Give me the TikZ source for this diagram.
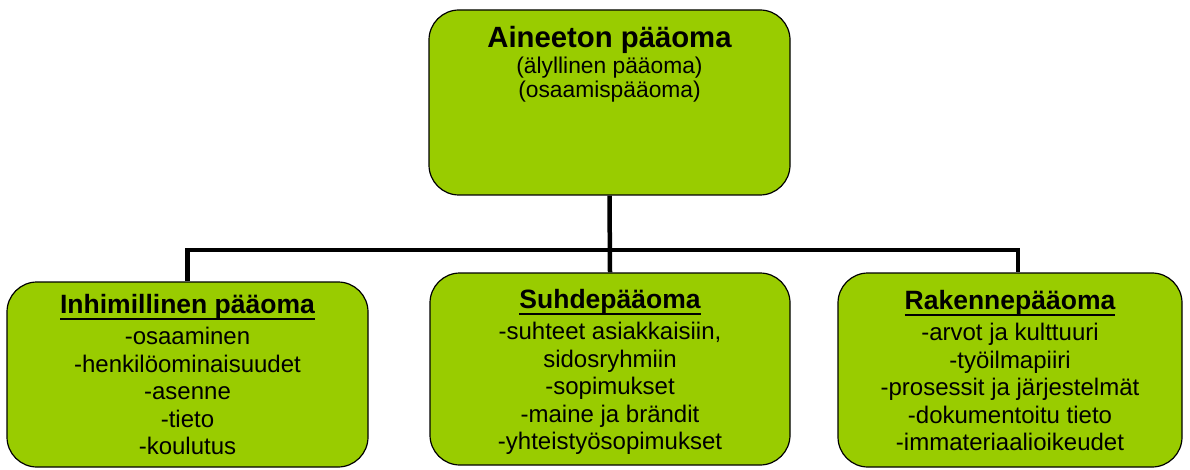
\documentclass[tikz,border=0pt]{standalone}
\usepackage{fontspec}
\setmainfont{Liberation Sans}
\definecolor{paagreen}{RGB}{153,204,0}
\newcommand\alleviiva[1]{\setbox0\hbox{#1}\rlap{\rule[-6pt]{\wd0}{2pt}}\box0}

\begin{document}
\begin{tikzpicture}[x=1pt, y=1pt,
    laatikko/.style={draw=black, line width=1.2pt, fill=paagreen, rounded corners=30pt, inner sep=0pt},
    teksti/.style={anchor=north, inner sep=0pt, align=center, font=\fontsize{24}{27.5}\selectfont},
    palkki/.style={black, line width=4.5pt}]
            \useasboundingbox (0,0) rectangle (1190,469);

            \node[laatikko, minimum width=361pt, minimum height=185pt] (paaoma) at (609.5,366.5) {};
            \node[laatikko, minimum width=361pt, minimum height=185pt] (inhim) at (187.5,94.5) {};
            \node[laatikko, minimum width=360pt, minimum height=192pt] (suhde) at (610,100) {};
            \node[laatikko, minimum width=344pt, minimum height=194pt] (rakenne) at (1010,99) {};

            \node[teksti, font=\fontsize{22.8}{24}\selectfont] (paaomateksti) at ([yshift=-17pt]paaoma.north)
                {{\bfseries\fontsize{29.3}{31}\selectfont Aineeton pääoma}\\[2pt]
                 (älyllinen pääoma)\\(osaamispääoma)};
            \node[teksti] (inhimteksti) at ([yshift=-13pt]inhim.north)
                {{\bfseries\fontsize{26.5}{31}\selectfont\alleviiva{Inhimillinen pääoma}}\\[3.5pt]
                 -osaaminen\\-henkilöominaisuudet\\-asenne\\-tieto\\-koulutus};
            \node[teksti] (suhdeteksti) at ([yshift=-17pt]suhde.north)
                {{\bfseries\fontsize{26.5}{31}\selectfont\alleviiva{Suhdepääoma}}\\[3.5pt]
                 -suhteet asiakkaisiin,\\sidosryhmiin\\-sopimukset\\-maine ja brändit\\-yhteistyösopimukset};
            \node[teksti] (rakenneteksti) at ([yshift=-18pt]rakenne.north)
                {{\bfseries\fontsize{26.5}{31}\selectfont\alleviiva{Rakennepääoma}}\\[3.5pt]
                 -arvot ja kulttuuri\\-työilmapiiri\\-prosessit ja järjestelmät\\-dokumentoitu tieto\\-immateriaalioikeudet};

            \coordinate (vayla) at (0,219);
            \draw[palkki] (paaoma.south) -- (suhde.north);
            \draw[palkki] (inhim.north) -- (inhim.north |- vayla) -- ([xshift=8pt]rakenne.north |- vayla) -- ([xshift=8pt]rakenne.north);
\end{tikzpicture}
\end{document}
